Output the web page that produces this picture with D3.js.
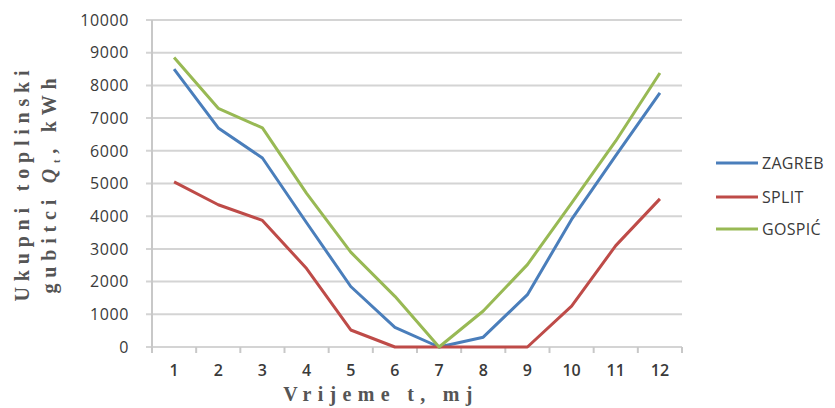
<!DOCTYPE html>
<html>
<head>
<meta charset="utf-8">
<script src="https://cdn.jsdelivr.net/npm/d3@7"></script>
<style>
  html, body { margin: 0; padding: 0; background: #fff; }
  svg { display: block; }
</style>
</head>
<body>
<svg id="chart" width="835" height="408"></svg>
<script>
const months = [1, 2, 3, 4, 5, 6, 7, 8, 9, 10, 11, 12];
const yTicks = [0, 1000, 2000, 3000, 4000, 5000, 6000, 7000, 8000, 9000, 10000];
const seriesNames = ["ZAGREB", "SPLIT", "GOSPIĆ"];
const seriesColors = ["#4a7ebb", "#be4b48", "#98b954"];
const zagreb = [8500, 6700, 5780, 3800, 1850, 600, 0, 300, 1600, 3900, 5850, 7770];
const split  = [5050, 4350, 3870, 2400, 520, 0, 0, 0, 0, 1250, 3100, 4530];
const gospic = [8850, 7300, 6700, 4700, 2900, 1550, 0, 1100, 2520, 4400, 6300, 8380];

const seriesValues = [zagreb, split, gospic];

const svg = d3.select("#chart");
const L = 152, R = 682, T = 20, B = 347;

const x = d3.scaleBand().domain(months).range([L, R]);
const y = d3.scaleLinear().domain([0, 10000]).range([B, T]);

const sans = "'Open Sans', Lato, sans-serif";
const serif = "'Liberation Serif', 'Times New Roman', serif";

// gridlines
svg.append("g").selectAll("line").data(yTicks).join("line")
  .attr("x1", L - 6).attr("x2", R)
  .attr("y1", d => y(d)).attr("y2", d => y(d))
  .attr("stroke", "#d4d4d4").attr("stroke-width", 2);

// y axis line
svg.append("line").attr("x1", L).attr("x2", L).attr("y1", T).attr("y2", B + 6)
  .attr("stroke", "#c8c8c8").attr("stroke-width", 2);

// x axis tick marks at band boundaries
const bounds = months.map(m => x(m)).concat([R]);
svg.append("g").selectAll("line").data(bounds).join("line")
  .attr("x1", d => d).attr("x2", d => d)
  .attr("y1", B).attr("y2", B + 6)
  .attr("stroke", "#c8c8c8").attr("stroke-width", 2);

// y tick labels
svg.append("g").selectAll("text").data(yTicks).join("text")
  .attr("x", 129).attr("y", d => y(d)).attr("dy", "0.36em")
  .attr("text-anchor", "end")
  .attr("font-family", sans)
  .attr("font-size", 16).attr("letter-spacing", 0.6).attr("fill", "#3a3a3a")
  .text(d => d);

// x tick labels
svg.append("g").selectAll("text").data(months).join("text")
  .attr("x", d => x(d) + x.bandwidth() / 2).attr("y", 370).attr("dy", "0.36em")
  .attr("text-anchor", "middle")
  .attr("font-family", sans)
  .attr("font-size", 16).attr("font-weight", 600).attr("fill", "#3a3a3a")
  .text(d => d);

// lines
const line = d3.line()
  .x((d, i) => x(months[i]) + x.bandwidth() / 2)
  .y(d => y(d));

seriesValues.forEach((vals, si) => {
  svg.append("path").datum(vals)
    .attr("d", line)
    .attr("fill", "none")
    .attr("stroke", seriesColors[si])
    .attr("stroke-width", 3)
    .attr("stroke-linejoin", "round");
});

// legend
const legY = [163, 197, 229];
const leg = svg.append("g").selectAll("g").data(seriesNames).join("g")
  .attr("transform", (d, i) => `translate(716,${legY[i]})`);
leg.append("line").attr("x1", 0).attr("x2", 42).attr("y1", 0).attr("y2", 0)
  .attr("stroke", (d, i) => seriesColors[i]).attr("stroke-width", 3);
leg.append("text").attr("x", 46).attr("y", 0).attr("dy", "0.36em")
  .attr("font-family", sans)
  .attr("font-size", 16).attr("letter-spacing", 0.3).attr("fill", "#3a3a3a")
  .text(d => d);

// axis titles
svg.append("text")
  .attr("transform", "translate(29,183) rotate(-90)")
  .attr("text-anchor", "middle")
  .attr("font-family", serif).attr("font-size", 20).attr("font-weight", 600).attr("fill", "#555")
  .attr("letter-spacing", 5.8)
  .text("Ukupni toplinski");

const yt2 = svg.append("text")
  .attr("transform", "translate(56,183) rotate(-90)")
  .attr("text-anchor", "middle")
  .attr("font-family", serif).attr("font-size", 20).attr("font-weight", 600).attr("fill", "#555")
  .attr("letter-spacing", 5.8);
yt2.append("tspan").text("gubitci ");
yt2.append("tspan").attr("font-style", "italic").text("Q");
yt2.append("tspan").attr("font-size", 10).attr("dy", 4).text("t");
yt2.append("tspan").attr("dy", -4).text(", kWh");

svg.append("text")
  .attr("x", 381).attr("y", 401)
  .attr("text-anchor", "middle")
  .attr("font-family", serif).attr("font-size", 20).attr("font-weight", 600)
  .attr("fill", "#555")
  .attr("letter-spacing", 6.3)
  .text("Vrijeme t, mj");
</script>
</body>
</html>
